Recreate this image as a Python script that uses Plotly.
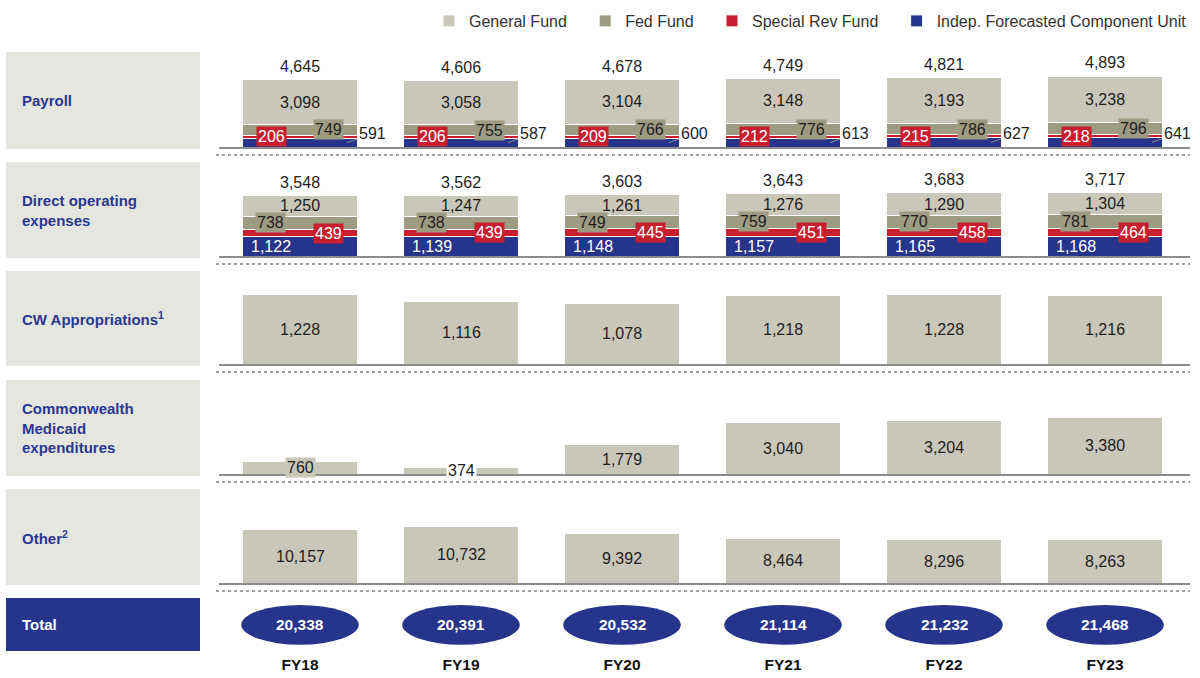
import plotly.graph_objects as go

# ---- data -----------------------------------------------------------------
years = ["FY18", "FY19", "FY20", "FY21", "FY22", "FY23"]

payroll_general = [3098, 3058, 3104, 3148, 3193, 3238]
payroll_fed = [749, 755, 766, 776, 786, 796]
payroll_special = [206, 206, 209, 212, 215, 218]
payroll_indep = [591, 587, 600, 613, 627, 641]
payroll_total = [4645, 4606, 4678, 4749, 4821, 4893]

dope_general = [1250, 1247, 1261, 1276, 1290, 1304]
dope_fed = [738, 738, 749, 759, 770, 781]
dope_special = [439, 439, 445, 451, 458, 464]
dope_indep = [1122, 1139, 1148, 1157, 1165, 1168]
dope_total = [3548, 3562, 3603, 3643, 3683, 3717]

cw_appropriations = [1228, 1116, 1078, 1218, 1228, 1216]
medicaid = [760, 374, 1779, 3040, 3204, 3380]
other = [10157, 10732, 9392, 8464, 8296, 8263]

grand_total = [20338, 20391, 20532, 21114, 21232, 21468]

row_labels = [
    "Payroll",
    "Direct operating<br>expenses",
    "CW Appropriations<sup>1</sup>",
    "Commonwealth<br>Medicaid<br>expenditures",
    "Other<sup>2</sup>",
]

# ---- styling --------------------------------------------------------------
W, H = 1200, 678
FONT = "Liberation Sans, Arial, sans-serif"
C_GEN = "#c8c7b8"
C_FED = "#9d9b81"
C_SPE = "#c71f30"
C_IND = "#27348b"
C_BOX = "#e6e6e1"
C_LABEL = "#2b3790"
TXT = "#1e1e1e"
NUM = 16
LEGEND_PAD = "&nbsp;" * 3  # extra room between legend entries


def py(px):
    """pixel row -> paper y"""
    return 1 - px / H


# each row: (top px, baseline px, pixels per data unit)
rows = [
    (52, 147, 0.01451),
    (162, 256, 0.01711),
    (271, 364, 0.0562),
    (380, 474, 0.0168),
    (489, 583, 0.0053),
]
total_row = (598, 651)
x_domain = [219.5 / W, 1185.5 / W]

fig = go.Figure()
layout = dict(
    width=W, height=H,
    margin=dict(l=0, r=0, t=0, b=0),
    paper_bgcolor="white", plot_bgcolor="rgba(0,0,0,0)",
    barmode="stack", bargap=0.29,
    font=dict(family=FONT, size=NUM, color=TXT),
    showlegend=True,
    legend=dict(
        orientation="h", x=1192 / W, xanchor="right", y=py(4), yanchor="top",
        font=dict(size=16, color="#333333"), traceorder="normal",
        bgcolor="rgba(0,0,0,0)", itemclick=False, itemdoubleclick=False,
    ),
    hovermode=False,
)

for k, (top, base, ppu) in enumerate(rows, start=1):
    layout[f"xaxis{k}"] = dict(
        domain=x_domain, anchor=f"y{k}", type="category",
        categoryorder="array", categoryarray=years, range=[-0.5, 5.5],
        showticklabels=False, showgrid=False, zeroline=False, showline=False,
    )
    layout[f"yaxis{k}"] = dict(
        domain=[py(base), py(top)], anchor=f"x{k}",
        range=[0, (base - top) / ppu],
        visible=False, showgrid=False, zeroline=False,
    )

layout["xaxis6"] = dict(
    domain=x_domain, anchor="y6", type="category",
    categoryorder="array", categoryarray=years, range=[-0.5, 5.5],
    showgrid=False, zeroline=False, showline=False, ticks="",
    ticklabelstandoff=2,
    tickfont=dict(family=FONT, size=15.5, color="#111111", weight="bold"),
)
layout["yaxis6"] = dict(
    domain=[py(total_row[1]), py(total_row[0])], anchor="x6",
    range=[0, 1], visible=False,
)


def bar(y, color, name, k, legend=False, rank=None):
    return go.Bar(
        x=years, y=y, name=name + (LEGEND_PAD if rank and rank < 4 else ""),
        marker=dict(color=color, line=dict(color="white", width=1)),
        width=0.71, xaxis=f"x{k}", yaxis=f"y{k}", showlegend=legend,
        legendrank=rank if rank else 1000, hoverinfo="skip", textposition="none",
    )


# Payroll (stacked, bottom to top)
fig.add_trace(bar(payroll_indep, C_IND, "Indep. Forecasted Component Unit", 1, True, 4))
fig.add_trace(bar(payroll_special, C_SPE, "Special Rev Fund", 1, True, 3))
fig.add_trace(bar(payroll_fed, C_FED, "Fed Fund", 1, True, 2))
fig.add_trace(bar(payroll_general, C_GEN, "General Fund", 1, True, 1))

# Direct operating expenses
fig.add_trace(bar(dope_indep, C_IND, "Indep. Forecasted Component Unit", 2))
fig.add_trace(bar(dope_special, C_SPE, "Special Rev Fund", 2))
fig.add_trace(bar(dope_fed, C_FED, "Fed Fund", 2))
fig.add_trace(bar(dope_general, C_GEN, "General Fund", 2))

# Single-series rows
fig.add_trace(bar(cw_appropriations, C_GEN, "General Fund", 3))
fig.add_trace(bar(medicaid, C_GEN, "General Fund", 4))
fig.add_trace(bar(other, C_GEN, "General Fund", 5))

ann = []
shapes = []


def label(k, x, y, text, color=TXT, bg=None, xshift=0, yshift=0, size=NUM, **kw):
    d = dict(
        xref=f"x{k}", yref=f"y{k}", x=x, y=y, text=text, showarrow=False,
        font=dict(family=FONT, size=size, color=color),
        xshift=xshift, yshift=yshift, xanchor="center", yanchor="middle",
    )
    if bg:
        d.update(bgcolor=bg, borderpad=1)
    d.update(kw)
    ann.append(d)


fmt = "{:,}".format

for i, yr in enumerate(years):
    # Payroll labels
    b, s, f, g = payroll_indep[i], payroll_special[i], payroll_fed[i], payroll_general[i]
    top = b + s + f + g
    label(1, yr, top, fmt(payroll_total[i]), yshift=13)
    label(1, yr, b + s + f + g / 2, fmt(g))
    label(1, yr, b + s + f / 2, fmt(f), bg=C_FED, xshift=28)
    label(1, yr, b + s / 2, fmt(s), color="white", bg=C_SPE, xshift=-29)
    ann.append(dict(
        xref="x1", yref="y1", x=yr, y=b / 2, xshift=47, text=fmt(b),
        showarrow=True, arrowhead=0, arrowwidth=1, arrowcolor="#8a8a8a",
        ax=25, ay=-9, xanchor="center", yanchor="middle",
        font=dict(family=FONT, size=NUM, color=TXT),
    ))

    # Direct operating expenses labels
    b, s, f, g = dope_indep[i], dope_special[i], dope_fed[i], dope_general[i]
    top = b + s + f + g
    label(2, yr, top, fmt(dope_total[i]), yshift=13)
    label(2, yr, b + s + f + g / 2, fmt(g))
    label(2, yr, b + s + f / 2, fmt(f), bg=C_FED, xshift=-30)
    label(2, yr, b + s / 2, fmt(s), color="white", bg=C_SPE, xshift=28)
    label(2, yr, b / 2, fmt(b), color="white", xshift=-29)

    # Single-series rows
    label(3, yr, cw_appropriations[i] / 2, fmt(cw_appropriations[i]))
    m = medicaid[i]
    label(4, yr, m / 2, fmt(m), bg=("white" if m < 500 else C_GEN))
    label(5, yr, other[i] / 2, fmt(other[i]))

    # Grand total ellipses
    shapes.append(dict(
        type="circle", xref="x6", yref="y6", x0=i - 0.365, x1=i + 0.365,
        y0=0.12, y1=0.87, fillcolor=C_IND, line=dict(width=0), layer="above",
    ))
    ann.append(dict(
        xref="x6", yref="y6", x=yr, y=0.5, text=f"<b>{fmt(grand_total[i])}</b>",
        showarrow=False, font=dict(family=FONT, size=15.5, color="white"),
    ))

# Row header boxes, baselines and dotted separators
for k, (top, base, ppu) in enumerate(rows):
    shapes.append(dict(
        type="rect", xref="paper", yref="paper", x0=6 / W, x1=200 / W,
        y0=py(base + 2), y1=py(top), fillcolor=C_BOX, line=dict(width=0), layer="below",
    ))
    ann.append(dict(
        xref="paper", yref="paper", x=20 / W, y=py((top + base + 2) / 2),
        text=f"<b>{row_labels[k]}</b>", showarrow=False, align="left",
        xanchor="left", yanchor="middle",
        font=dict(family=FONT, size=15, color=C_LABEL),
    ))
    shapes.append(dict(
        type="line", xref="paper", yref="paper", x0=219 / W, x1=1190 / W,
        y0=py(base + 1), y1=py(base + 1), line=dict(color="#8c8c8c", width=2),
    ))
    shapes.append(dict(
        type="line", xref="paper", yref="paper", x0=216 / W, x1=1190 / W,
        y0=py(base + 8), y1=py(base + 8), line=dict(color="#a0a0a0", width=2, dash="dot"),
    ))

shapes.append(dict(
    type="rect", xref="paper", yref="paper", x0=6 / W, x1=200 / W,
    y0=py(total_row[1]), y1=py(total_row[0]), fillcolor=C_IND, line=dict(width=0),
    layer="below",
))
ann.append(dict(
    xref="paper", yref="paper", x=20 / W, y=py(sum(total_row) / 2),
    text="<b>Total</b>", showarrow=False, xanchor="left", yanchor="middle",
    font=dict(family=FONT, size=15, color="white"),
))

layout["annotations"] = ann
layout["shapes"] = shapes
fig.update_layout(**layout)

fig.write_html("out.html", config={"displayModeBar": False, "staticPlot": True})
